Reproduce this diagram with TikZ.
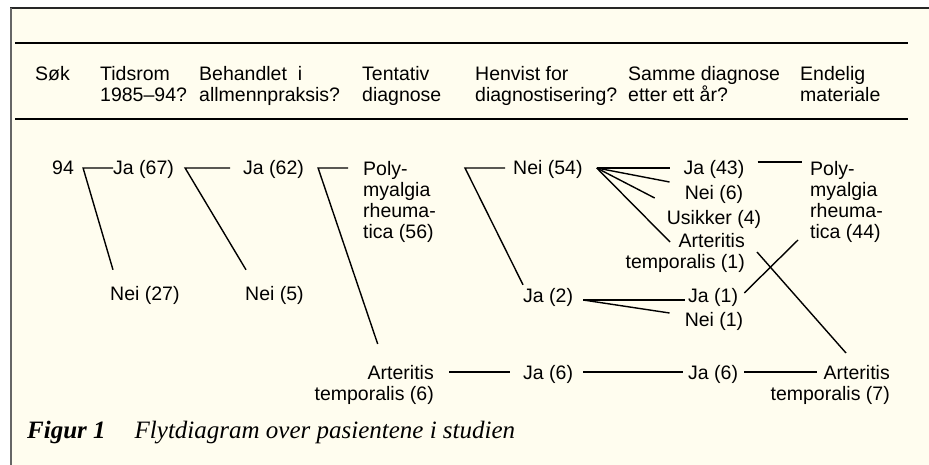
\documentclass[tikz,border=0pt]{standalone}
\usepackage{fontspec}
\setmainfont{Liberation Serif}
\newfontfamily\arialf{Liberation Sans}
\usetikzlibrary{calc}
\definecolor{cream}{RGB}{255,253,239}
\begin{document}
\begin{tikzpicture}[x=1pt,y=-1pt,
  lbl/.style={inner sep=0pt, font=\arialf\fontsize{19.5}{21}\selectfont, text height=14pt, text depth=0pt},
  blk/.style={inner sep=0pt, font=\arialf\fontsize{19.5}{21}\selectfont},
  conn/.style={line width=1.4pt, line cap=butt},
  rulel/.style={line width=2.2pt}]
\useasboundingbox (0,0) rectangle (929,465);
\fill[white] (0,0) rectangle (929,465);
\fill[cream] (11,8) rectangle (929,465);
\draw[line width=2pt, black!85] (10,8) -- (929,8);
\draw[line width=2pt, black!60] (11,8) -- (11,465);
\draw[rulel] (15,43) -- (908,43);
\draw[rulel] (15,119) -- (908,119);

% header
\node[blk, anchor=north west] (hsok) at (35,66) {Søk};
\node[blk, align=left, anchor=north west] (htid) at (100,66) {Tidsrom\\1985–94?};
\node[blk, align=left, anchor=north west] (hbeh) at (199,66) {Behandlet\ \ i\\allmennpraksis?};
\node[blk, align=left, anchor=north west] (hten) at (362,66) {Tentativ\\diagnose};
\node[blk, align=left, anchor=north west] (hhen) at (475,66) {Henvist for\\diagnostisering?};
\node[blk, align=left, anchor=north west] (hsam) at (628,66) {Samme diagnose\\etter ett år?};
\node[blk, align=left, anchor=north west] (hend) at (800,66) {Endelig\\materiale};

% body
\node[lbl, anchor=base west] (n94) at (52,175) {94};
\node[lbl, anchor=base west] (ja67) at (113,175) {Ja (67)};
\node[lbl, anchor=base west] (nei27) at (110,300) {Nei (27)};
\node[lbl, anchor=base west] (ja62) at (243,175) {Ja (62)};
\node[lbl, anchor=base west] (nei5) at (245,300) {Nei (5)};
\node[blk, align=left, anchor=north west] (poly56) at (363,161) {Poly-\\myalgia\\rheuma-\\tica (56)};
\node[blk, align=right, anchor=north east] (at6) at (434,365) {Arteritis\\temporalis (6)};
\node[lbl, anchor=base west] (nei54) at (513,175) {Nei (54)};
\node[lbl, anchor=base west] (ja2) at (523,302) {Ja (2)};
\node[lbl, anchor=base west] (ja6a) at (523,379) {Ja (6)};
\node[lbl, anchor=base] (ja43) at (714,175) {Ja (43)};
\node[lbl, anchor=base] (nei6) at (714,200) {Nei (6)};
\node[lbl, anchor=base] (us4) at (714,225) {Usikker (4)};
\node[blk, align=right, anchor=north east] (at1) at (745,233) {Arteritis\\temporalis (1)};
\node[lbl, anchor=base west] (ja1) at (688,302) {Ja (1)};
\node[lbl, anchor=base] (nei1) at (714,326) {Nei (1)};
\node[lbl, anchor=base west] (ja6b) at (688,379) {Ja (6)};
\node[blk, align=left, anchor=north west] (poly44) at (810,161) {Poly-\\myalgia\\rheuma-\\tica (44)};
\node[blk, align=right, anchor=north east] (at7) at (890,365) {Arteritis\\temporalis (7)};

% caption
\node[anchor=base west, inner sep=0pt, font=\fontsize{25}{28}\selectfont] (cap) at (27,438)
  {\textbf{\textit{Figur 1}}\hspace{29pt}\textit{Flytdiagram over pasientene i studien}};

% connectors
\coordinate (j94) at ($(n94.east)+(9,0)$);
\draw[conn] (ja67.west) -- (j94) -- ($(nei27.north west)+(3,-16)$);
\coordinate (j67) at ($(ja67.east)+(11,0)$);
\draw[conn] ($(ja62.west)+(-13,0)$) -- (j67) -- ($(nei5.north west)+(1,-16)$);
\coordinate (j62) at ($(ja62.east)+(14,0)$);
\draw[conn] ($(poly56.north west)+(-15,7)$) -- (j62) -- ($(at6.north)+(3.5,-21)$);
\coordinate (jn) at ($(nei54.west)+(-48,0)$);
\draw[conn] ($(nei54.west)+(-8,0)$) -- (jn) -- ($(ja2.north west)+(0,-3)$);
\coordinate (j54) at ($(nei54.east)+(14,0)$);
\draw[conn] (j54) -- ($(ja43.west)+(-13,0)$);
\draw[conn] (j54) -- ($(nei6.west)+(-15,-11)$);
\draw[conn] (j54) -- ($(us4.west)+(-12,-20)$);
\draw[conn] (j54) -- ($(at1.north east)+(-75,9)$);
\draw[conn] ($(ja43.east)+(13,-6)$) -- ($(poly44.north west)+(-8,1)$);
\draw[conn] ($(ja1.east)+(6,-2)$) -- ($(poly44.north west)+(-12,79)$);
\draw[conn] ($(at1.north east)+(12,19)$) -- ($(at7.north east)+(-44,-12)$);
\coordinate (j2) at ($(ja2.east)+(10,5)$);
\draw[conn] (j2) -- ($(ja1.west)+(-3,5)$);
\draw[conn] (j2) -- ($(nei1.west)+(-15,-6)$);
\draw[conn] ($(at6.north east)+(15,7)$) -- ($(ja6a.west)+(-13,0)$);
\draw[conn] ($(ja6a.east)+(10,0)$) -- ($(ja6b.west)+(-5,0)$);
\draw[conn] ($(ja6b.east)+(6,0)$) -- ($(at7.north east)+(-73,7)$);
\end{tikzpicture}
\end{document}
